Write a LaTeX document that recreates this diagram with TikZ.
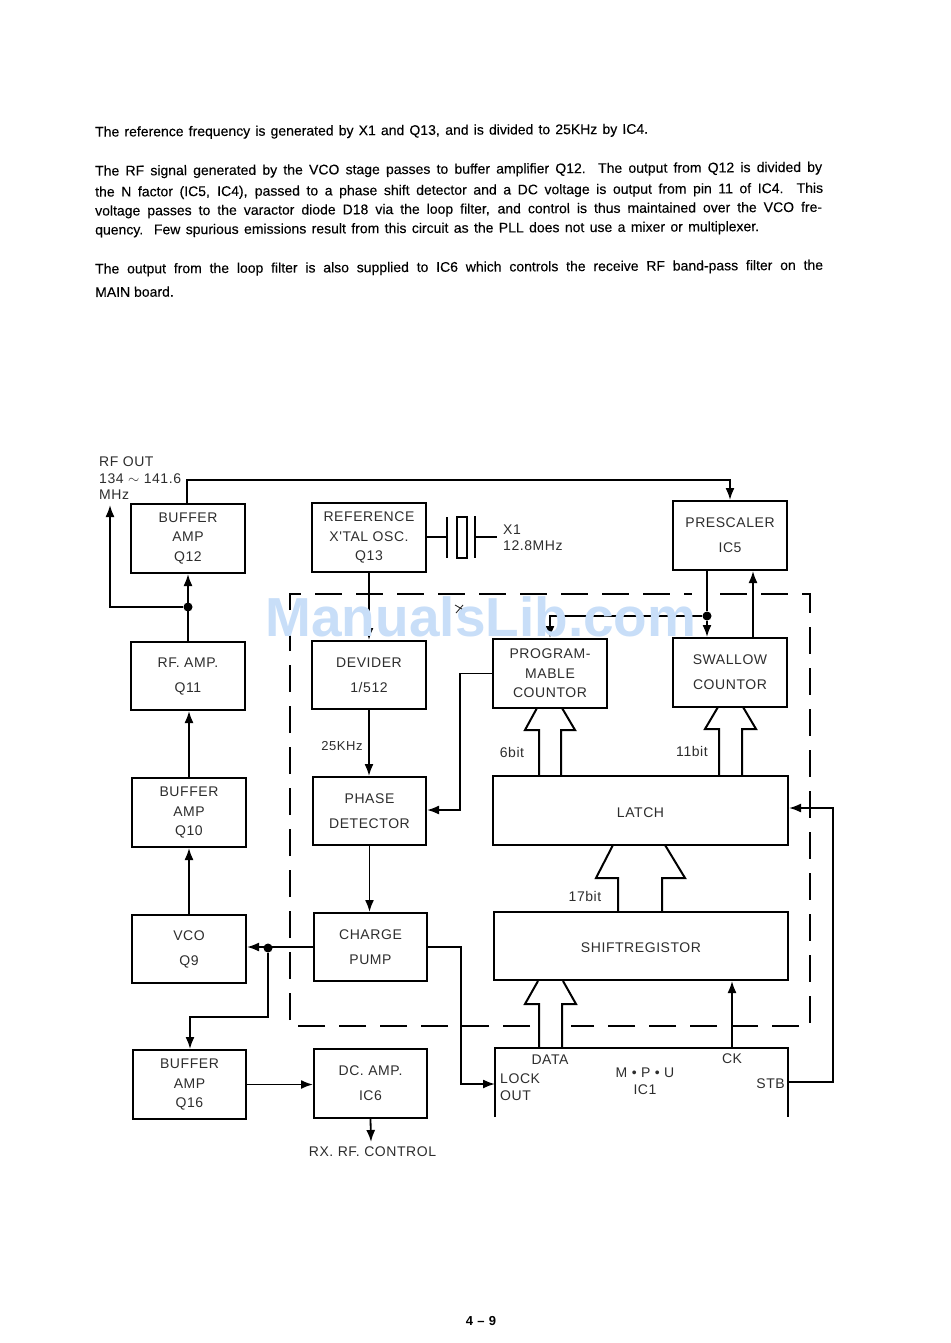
\documentclass[tikz,border=0pt]{standalone}
\usepackage{fontspec}
\setmainfont{Liberation Sans}
\newfontfamily\lblfont[LetterSpace=4]{Liberation Sans}
\newfontfamily\parafont[FakeBold=0.15]{Liberation Sans}
\usetikzlibrary{arrows.meta,calc}
\definecolor{wm}{RGB}{200,222,248}
\definecolor{ink}{RGB}{45,45,45}
\tikzset{
 blk/.style={draw=black,line width=2pt,align=center,inner sep=0pt,text=ink,font=\lblfont\fontsize{14}{19.5}\selectfont,execute at begin node={\rule{0pt}{14pt}}},
 three/.style={font=\lblfont\fontsize{14}{19.5}\selectfont,execute at begin node={\rule{0pt}{18pt}}},
 two/.style={font=\lblfont\fontsize{14}{25}\selectfont,execute at begin node={\rule{0pt}{22pt}}},
 lbl/.style={inner sep=0pt,text=ink,font=\lblfont\fontsize{14}{16.5}\selectfont,align=left},
 para/.style={inner sep=0pt,anchor=west,rotate=0.3,text=black,font=\parafont\fontsize{14}{16}\selectfont},
 wire/.style={draw=black,line width=1.8pt,line join=miter},
 arr/.style={wire,-{Latex[length=12pt,width=9pt]}},
 hollow/.style={draw=black,line width=2pt,line join=miter},
 dashbox/.style={draw=black,line width=2pt,dash pattern=on 27pt off 14pt},
 junction/.style={circle,fill=black,inner sep=0pt,minimum size=9pt}
}
\newcommand\parline[4]{\node[para] (#1) at (95,#2) {\makebox[#3pt][s]{#4}};}
\begin{document}
\begin{tikzpicture}[x=1pt,y=-1pt]
\useasboundingbox (0,0) rectangle (950,1343);
% paragraphs
\parline{p1}{133}{553}{The reference frequency is generated by X1 and Q13, and is divided to 25KHz by IC4.}
\parline{p2}{172}{727}{The RF signal generated by the VCO stage passes to buffer amplifier Q12.\ \ The output from Q12 is divided by}
\parline{p3}{193}{728}{the N factor (IC5, IC4), passed to a phase shift detector and a DC voltage is output from pin 11 of IC4.\ \ This}
\parline{p4}{212}{727}{voltage passes to the varactor diode D18 via the loop filter, and control is thus maintained over the VCO fre-}
\parline{p5}{231}{664}{quency.\ \ Few spurious emissions result from this circuit as the PLL does not use a mixer or multiplexer.}
\parline{p6}{270}{728}{The output from the loop filter is also supplied to IC6 which controls the receive RF band-pass filter on the}
\node[para] (p7) at (95,292) {MAIN board.};
% blocks
\node[blk,three,minimum width=114pt,minimum height=69pt] (q12) at (188,538.5) {BUFFER\\AMP\\Q12};
\node[blk,three,minimum width=114pt,minimum height=69pt] (ref) at (369,537.5) {REFERENCE\\X'TAL OSC.\\Q13};
\node[blk,two,minimum width=114pt,minimum height=69pt] (pre) at (730,535.5) {PRESCALER\\IC5};
\node[blk,two,minimum width=114pt,minimum height=68pt] (q11) at (188,676) {RF. AMP.\\Q11};
\node[blk,two,minimum width=114pt,minimum height=68pt] (dev) at (369,675) {DEVIDER\\1/512};
\node[blk,three,minimum width=114pt,minimum height=69pt] (prog) at (550,673.5) {PROGRAM-\\MABLE\\COUNTOR};
\node[blk,two,minimum width=114pt,minimum height=69pt] (swal) at (730,672.5) {SWALLOW\\COUNTOR};
\node[blk,three,minimum width=114pt,minimum height=69pt] (q10) at (189,812.5) {BUFFER\\AMP\\Q10};
\node[blk,two,minimum width=113pt,minimum height=68pt] (phase) at (369.5,811) {PHASE\\DETECTOR};
\node[blk,minimum width=295pt,minimum height=69pt] (latch) at (640.5,810.5) {LATCH};
\node[blk,two,minimum width=114pt,minimum height=68pt] (vco) at (189,949) {VCO\\Q9};
\node[blk,two,minimum width=113pt,minimum height=68pt] (charge) at (370.5,947) {CHARGE\\PUMP};
\node[blk,minimum width=294pt,minimum height=68pt] (shift) at (641,946) {SHIFTREGISTOR};
\node[blk,three,minimum width=113pt,minimum height=69pt] (q16) at (189.5,1084.5) {BUFFER\\AMP\\Q16};
\node[blk,two,minimum width=113pt,minimum height=69pt] (dc) at (370.5,1083.5) {DC. AMP.\\IC6};
% MPU: open at the bottom
\coordinate (mpuBL) at (495,1117);
\coordinate (mpuTL) at (495,1048);
\coordinate (mpuTR) at (788,1048);
\coordinate (mpuBR) at (788,1117);
\draw[hollow] (mpuBL) -- (mpuTL) -- (mpuTR) -- (mpuBR);
\node[lbl,align=center] (mpu) at (645,1081) {M • P • U\\IC1};
\node[lbl] (tdata) at (550,1060) {DATA};
\node[lbl] (tck) at (732,1059) {CK};
\node[lbl,anchor=west] (tlock) at (500,1087) {LOCK\\OUT};
\node[lbl,anchor=east] (tstb) at (785,1084) {STB};
% labels
\node[lbl,anchor=north west] (rfout) at (99,457) {RF OUT\\134 $\sim$ 141.6\\MHz};
\node[lbl,font=\lblfont\fontsize{13}{17}\selectfont] (t25) at (342,746) {25KHz};
\node[lbl] (t6) at (512,752) {6bit};
\node[lbl] (t11) at (692,751) {11bit};
\node[lbl] (t17) at (585,896) {17bit};
\node[lbl,anchor=west] (tx1) at (503,537.5) {X1\\12.8MHz};
\node[lbl] (trx) at (372.5,1152) {RX. RF. CONTROL};
\node[inner sep=0pt,font=\fontsize{13}{16}\selectfont\bfseries] (pg) at (481,1321) {4\,\,--\,\,9};
% dashed enclosure
\coordinate (dA) at (530,1026);
\coordinate (dB) at (290,1026);
\coordinate (dC) at (290,594);
\coordinate (dD) at (692,594);
\coordinate (dE) at (720,594);
\coordinate (dF) at (810,594);
\coordinate (dG) at (810,1026);
\coordinate (dH) at (571,1026);
\draw[dashbox] (dA) -- (dB) -- (dC) -- (dD);
\draw[dashbox] (dE) -- (dF) -- (dG) -- (dH);
% crystal
\coordinate (plateA) at (447,537);
\coordinate (plateB) at (475,537);
\coordinate (xfree) at (497,537);
\draw[wire] (ref.east |- plateA) -- (plateA);
\draw[wire] (447,517) -- (447,558);
\draw[wire] (457,517) rectangle (467,558);
\draw[wire] (475,516) -- (475,558);
\draw[wire] (plateB) -- (xfree);
% junctions
\node[junction] (j1) at (188,607) {};
\node[junction] (j2) at (707,616) {};
\node[junction] (j3) at (268,948) {};
\coordinate (rfend) at (110,505);
\coordinate (rxend) at (371,1142);
% connectors
\draw[arr] (q11.north -| j1) -- (q12.south -| j1);
\draw[arr] (j1) -- (rfend |- j1) -- (rfend);
\draw[arr] (187,0 |- q12.north) -- (187,480) -- (730,480) -- (pre.north);
\draw[arr] (ref.south) -- (dev.north);
\draw[arr] (dev.south) -- (phase.north -| dev.south);
\draw[arr] (phase.south) -- (charge.north -| phase.south);
\draw[arr] (q10.north) -- (q11.south -| q10.north);
\draw[arr] (vco.north) -- (q10.south);
\draw[arr] (charge.west) -- (vco.east |- charge.west);
\draw[arr] (j3) |- (190,1017) -- (q16.north -| 190,0);
\draw[arr] (q16.east) -- (dc.west |- q16.east);
\draw[arr] (dc.south) -- (rxend);
\draw[arr] (prog.west) -- (460,0 |- prog.west) -- (460,810) -- (phase.east |- 460,810);
\draw[arr] (charge.east) -- (461,0 |- charge.east) -- (461,1084) -- (mpuBL |- 461,1084);
\draw[arr] (mpuTR |- 0,1082) -- (833,1082) -- (833,808) -- (latch.east |- 833,808);
\draw[arr] (mpuTL -| 732,0) -- (shift.south -| 732,0);
\draw[wire] (pre.south -| j2) -- (j2);
\draw[arr] (j2) -- (swal.north -| j2);
\draw[arr] (j2) -- (550,0 |- j2) -- (prog.north);
\draw[arr] (swal.north -| 753,0) -- (pre.south -| 753,0);
% hollow bus arrows
\draw[hollow] (539,776) -- (539,730) -- (525,730) -- (537,708);
\draw[hollow] (562,708) -- (575,730) -- (561,730) -- (561,776);
\draw[hollow] (719,776) -- (719,729) -- (705,729) -- (718,707);
\draw[hollow] (743,707) -- (756,729) -- (742,729) -- (742,776);
\draw[hollow] (618,912) -- (618,878) -- (596,878) -- (613,845);
\draw[hollow] (665,845) -- (685,878) -- (662,878) -- (662,912);
\draw[hollow] (539,1048) -- (539,1004) -- (525,1004) -- (538,981);
\draw[hollow] (563,981) -- (576,1004) -- (562,1004) -- (562,1048);
% watermark lies over the drawing
\node[inner sep=0pt,text=wm,font=\fontsize{55}{55}\selectfont\bfseries] (wmark) at (481,617) {ManualsLib.com};
\draw[ink,line width=0.9pt] (455,605) -- (462,609) (463,605) -- (456,613);
\end{tikzpicture}
\end{document}
